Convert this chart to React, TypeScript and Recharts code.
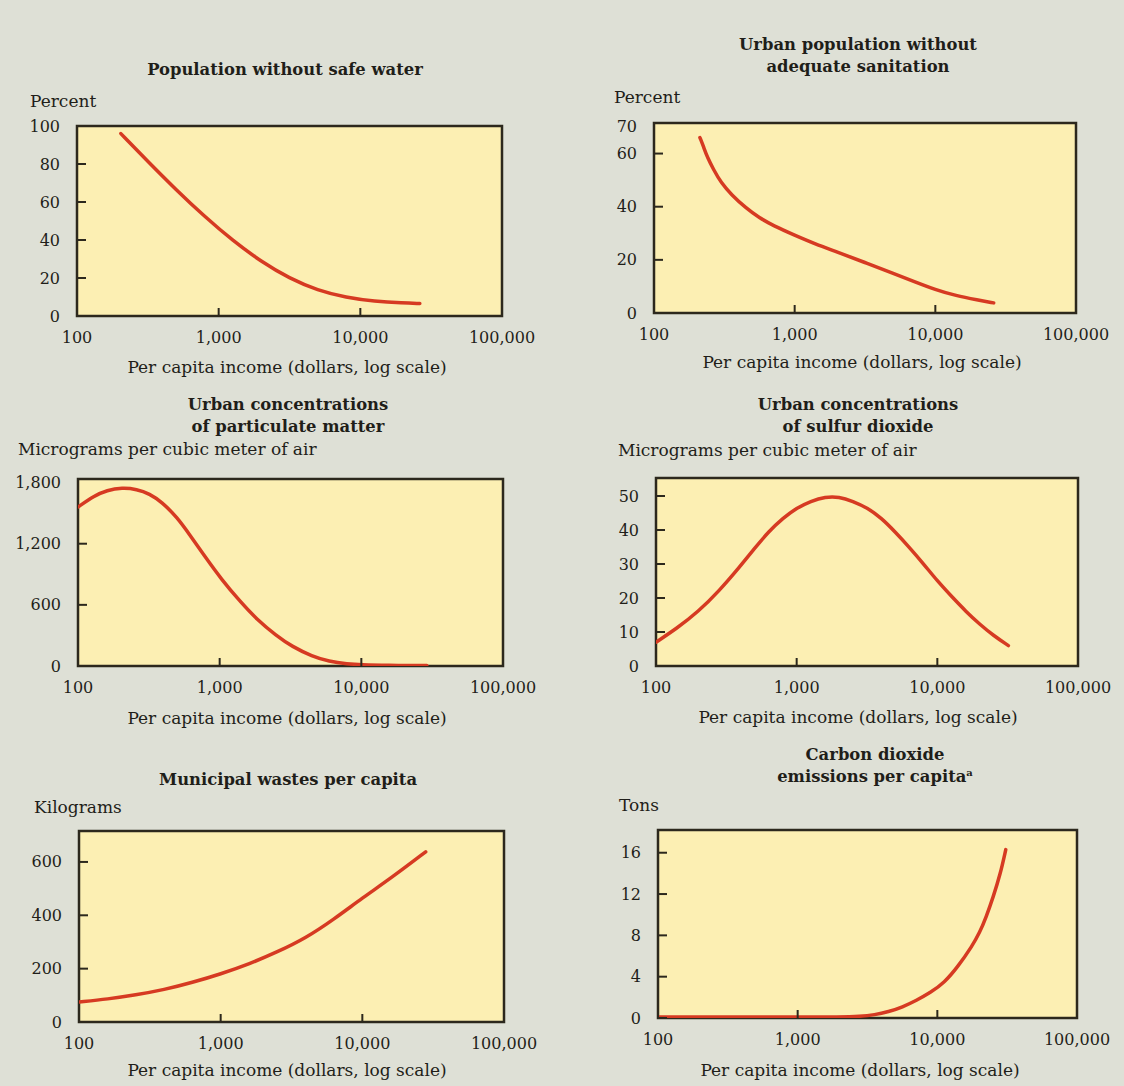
import React from 'react';
import { LineChart, Line, XAxis, YAxis, ReferenceArea, CartesianGrid } from 'recharts';

// ---------- shared axis data ----------
const X_TICKS = [100, 1000, 10000, 100000];
const X_TITLE = 'Per capita income (dollars, log scale)';

// ---------- panel 1: population without safe water ----------
const waterIncome = [204, 316, 500, 794, 1260, 2000, 3160, 5000, 7940, 12600, 20000, 26300];
const waterPct = [96, 81.4, 66.5, 52.4, 39.6, 28.6, 19.8, 13.5, 9.7, 7.7, 6.8, 6.6];
const waterYTicks = [0, 20, 40, 60, 80, 100];

// ---------- panel 2: urban population without adequate sanitation ----------
const sanIncome = [212, 218, 225, 240, 265, 300, 355, 450, 560, 710, 1000, 1400, 2000, 3150, 5000, 7100, 10000, 14000, 20000, 26000];
const sanPct = [66, 64.5, 62.5, 58.5, 54, 49, 44.5, 39.5, 35.8, 32.8, 29.3, 26, 23, 19, 15, 11.8, 8.8, 6.5, 4.9, 3.8];
const sanYTicks = [0, 20, 40, 60, 70];

// ---------- panel 3: particulate matter ----------
const pmIncome = [100, 130, 160, 205, 260, 320, 390, 500, 620, 800, 1030, 1400, 1820, 2500, 3250, 4500, 5900, 8000, 10000, 15000, 29000];
const pmValue = [1560, 1670, 1725, 1750, 1735, 1690, 1610, 1460, 1280, 1060, 850, 630, 460, 300, 190, 95, 45, 20, 12, 6, 5];
const pmYTicks = [0, 600, 1200, 1800];

// ---------- panel 4: sulfur dioxide ----------
const so2Income = [100, 140, 200, 280, 400, 500, 630, 800, 1000, 1260, 1600, 2000, 2500, 3200, 4000, 5000, 6300, 8000, 10000, 12600, 16000, 20000, 25000, 32000];
const so2Value = [7, 11, 16, 22, 29.5, 34.5, 39.5, 43.5, 46.5, 48.5, 49.8, 49.8, 48.5, 46.5, 43.5, 39.5, 35, 30, 25, 20.5, 16, 12.3, 9, 6];
const so2YTicks = [0, 10, 20, 30, 40, 50];

// ---------- panel 5: municipal wastes ----------
const wasteIncome = [100, 160, 250, 400, 630, 1000, 1600, 2500, 4000, 6300, 10000, 16000, 28000];
const wasteKg = [75, 86, 101, 121, 148, 180, 218, 262, 315, 385, 465, 540, 638];
const wasteYTicks = [0, 200, 400, 600];

// ---------- panel 6: carbon dioxide ----------
const co2Income = [100, 1000, 2000, 2800, 3550, 4470, 5620, 7080, 8910, 11200, 14100, 17800, 20000, 22400, 25100, 28200, 30900];
const co2Tons = [0.1, 0.1, 0.1, 0.15, 0.3, 0.6, 1.05, 1.7, 2.45, 3.4, 5.0, 7.0, 8.2, 9.8, 11.7, 13.9, 16.3];
const co2YTicks = [0, 4, 8, 12, 16];

// ---------- styles ----------
const FONT = '"DejaVu Serif", "Liberation Serif", serif';
const BG = '#dee0d6';
const PLOT = '#fcefb3';
const BORDER = '#2c281d';
const RED = '#d63a22';
const TEXT = '#1f1e19';

type Box = { L: number; T: number; R: number; B: number };

const fmt = (v: number) => v.toLocaleString('en-US');

const YTick = (props: any) => {
  const { x, y, payload, skip } = props;
  const showLine = !(skip || []).includes(payload.value);
  return (
    <g>
      {showLine && <line x1={x + 17} x2={x + 26} y1={y} y2={y} stroke={BORDER} strokeWidth={2} />}
      <text x={x} y={y} textAnchor="end" dominantBaseline="central" fontSize={16} fontFamily={FONT} fill={TEXT}>
        {fmt(payload.value)}
      </text>
    </g>
  );
};

const XTick = (props: any) => {
  const { x, y, payload } = props;
  return (
    <g>
      <line x1={x} x2={x} y1={y - 21} y2={y - 29} stroke={BORDER} strokeWidth={2} />
      <text x={x} y={y} textAnchor="middle" dominantBaseline="central" fontSize={16} fontFamily={FONT} fill={TEXT}>
        {fmt(payload.value)}
      </text>
    </g>
  );
};

type PanelProps = {
  box: Box;
  income: number[];
  values: number[];
  yTop: number;
  yTicks: number[];
  skipTickLines?: number[];
  title: React.ReactNode[];
  titleX: number;
  titleY: number;
  unit: string;
  unitX: number;
  unitY: number;
  xTitleX: number;
  xTitleY: number;
};

const YW = 70;
const MT = 10;
const MR = 45;
const XH = 40;

function Panel(p: PanelProps) {
  const data = p.income.map((x, i) => ({ x, y: p.values[i] }));
  const w = p.box.R - p.box.L + YW + MR;
  const h = p.box.B - p.box.T + MT + XH;
  return (
    <>
      <div
        style={{
          position: 'absolute',
          left: p.titleX - 200,
          top: p.titleY - 11,
          width: 400,
          textAlign: 'center',
          fontFamily: FONT,
          fontWeight: 'bold',
          fontSize: 16.4,
          lineHeight: '22px',
          color: TEXT,
        }}
      >
        {p.title.map((t, i) => (
          <div key={i}>{t}</div>
        ))}
      </div>
      <div
        style={{
          position: 'absolute',
          left: p.unitX,
          top: p.unitY - 11,
          fontFamily: FONT,
          fontSize: 17,
          lineHeight: '22px',
          color: TEXT,
          whiteSpace: 'nowrap',
        }}
      >
        {p.unit}
      </div>
      <div
        style={{
          position: 'absolute',
          left: p.xTitleX - 250,
          top: p.xTitleY - 11,
          width: 500,
          textAlign: 'center',
          fontFamily: FONT,
          fontSize: 17,
          lineHeight: '22px',
          color: TEXT,
        }}
      >
        {X_TITLE}
      </div>
      <div style={{ position: 'absolute', left: p.box.L - YW, top: p.box.T - MT }}>
        <LineChart width={w} height={h} data={data} margin={{ top: MT, right: MR, bottom: 0, left: 0 }}>
          <CartesianGrid horizontal={false} vertical={false} fill={PLOT} fillOpacity={1} stroke="none" />
          <XAxis
            dataKey="x"
            type="number"
            scale="log"
            domain={[100, 100000]}
            allowDataOverflow
            ticks={X_TICKS}
            interval={0}
            height={XH}
            tickSize={0}
            tickMargin={21}
            axisLine={false}
            tick={<XTick />}
          />
          <YAxis
            type="number"
            domain={[0, p.yTop]}
            allowDataOverflow
            ticks={p.yTicks}
            interval={0}
            width={YW}
            tickSize={0}
            tickMargin={17}
            axisLine={false}
            tick={<YTick skip={p.skipTickLines} />}
          />
          <Line
            type="basis"
            dataKey="y"
            stroke={RED}
            strokeWidth={3.5}
            dot={false}
            strokeLinecap="round"
            isAnimationActive={false}
          />
          <ReferenceArea
            x1={100}
            x2={100000}
            y1={0}
            y2={p.yTop}
            fill="none"
            stroke={BORDER}
            strokeWidth={2.5}
            ifOverflow="visible"
          />
        </LineChart>
      </div>
    </>
  );
}

export default function App() {
  return (
    <div
      style={{
        position: 'absolute',
        left: 0,
        top: 0,
        width: 1124,
        height: 1086,
        background: BG,
        overflow: 'hidden',
      }}
    >
      <Panel
        box={{ L: 77, T: 126, R: 502, B: 316 }}
        income={waterIncome}
        values={waterPct}
        yTop={100}
        yTicks={waterYTicks}
        title={['Population without safe water']}
        titleX={285}
        titleY={70}
        unit="Percent"
        unitX={30}
        unitY={101}
        xTitleX={287}
        xTitleY={367}
      />
      <Panel
        box={{ L: 654, T: 123, R: 1076, B: 313 }}
        income={sanIncome}
        values={sanPct}
        yTop={71.5}
        yTicks={sanYTicks}
        skipTickLines={[70]}
        title={['Urban population without', 'adequate sanitation']}
        titleX={858}
        titleY={45}
        unit="Percent"
        unitX={614}
        unitY={97}
        xTitleX={862}
        xTitleY={362}
      />
      <Panel
        box={{ L: 78, T: 479, R: 503, B: 666 }}
        income={pmIncome}
        values={pmValue}
        yTop={1835}
        yTicks={pmYTicks}
        skipTickLines={[1800]}
        title={['Urban concentrations', 'of particulate matter']}
        titleX={288}
        titleY={405}
        unit="Micrograms per cubic meter of air"
        unitX={18}
        unitY={449}
        xTitleX={287}
        xTitleY={718}
      />
      <Panel
        box={{ L: 656, T: 478, R: 1078, B: 666 }}
        income={so2Income}
        values={so2Value}
        yTop={55.3}
        yTicks={so2YTicks}
        title={['Urban concentrations', 'of sulfur dioxide']}
        titleX={858}
        titleY={405}
        unit="Micrograms per cubic meter of air"
        unitX={618}
        unitY={450}
        xTitleX={858}
        xTitleY={717}
      />
      <Panel
        box={{ L: 79, T: 831, R: 504, B: 1022 }}
        income={wasteIncome}
        values={wasteKg}
        yTop={716}
        yTicks={wasteYTicks}
        title={['Municipal wastes per capita']}
        titleX={288}
        titleY={780}
        unit="Kilograms"
        unitX={34}
        unitY={807}
        xTitleX={287}
        xTitleY={1070}
      />
      <Panel
        box={{ L: 658, T: 830, R: 1077, B: 1018 }}
        income={co2Income}
        values={co2Tons}
        yTop={18.2}
        yTicks={co2YTicks}
        title={[
          'Carbon dioxide',
          <span key="t">
            emissions per capita
            <span style={{ fontSize: 10, position: 'relative', top: -6 }}>a</span>
          </span>,
        ]}
        titleX={875}
        titleY={755}
        unit="Tons"
        unitX={619}
        unitY={805}
        xTitleX={860}
        xTitleY={1070}
      />
    </div>
  );
}
